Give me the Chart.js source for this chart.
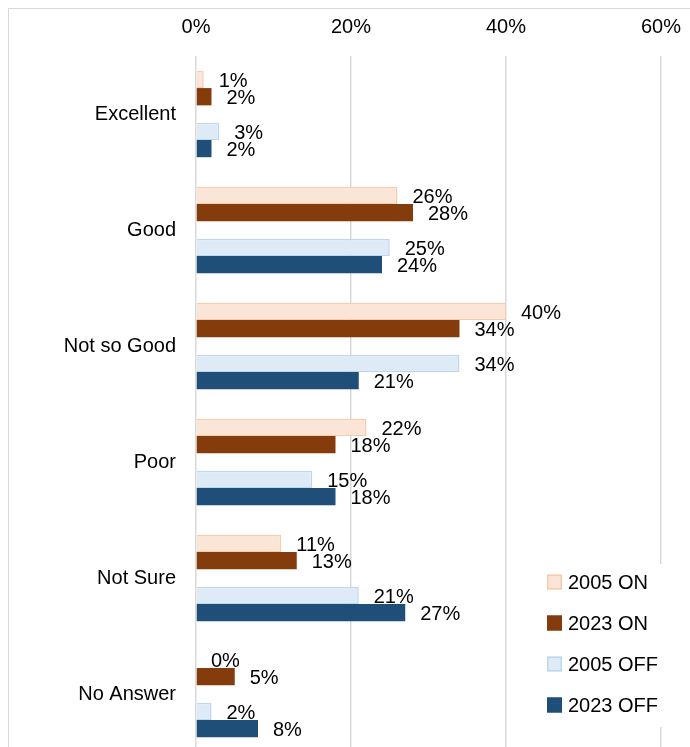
<!DOCTYPE html>
<html>
<head>
<meta charset="utf-8">
<script src="https://cdn.jsdelivr.net/npm/chart.js@4/dist/chart.umd.min.js"></script>
<style>
  html, body { margin: 0; padding: 0; background: #fff; overflow: hidden; }
  #wrap { position: relative; width: 690px; height: 747px; overflow: hidden; }
  #frame { position: absolute; left: 8px; top: 8px; width: 700px; height: 800px;
           border-left: 1.5px solid #d9d9d9; border-top: 1.5px solid #d9d9d9; }
  #rating-chart { position: absolute; left: 0; top: 0; }
</style>
</head>
<body>
<div id="wrap">
  <div id="frame"></div>
  <canvas id="rating-chart" width="690" height="752"></canvas>
</div>
<script>
const categories = ['Excellent', 'Good', 'Not so Good', 'Poor', 'Not Sure', 'No Answer'];
const on2005 = [1, 26, 40, 22, 11, 0];
const on2023 = [2, 28, 34, 18, 13, 5];
const off2005 = [3, 25, 34, 15, 21, 2];
const off2023 = [2, 24, 21, 18, 27, 8];
const xTicks = [0, 20, 40, 60];

const colors = {
  on2005: '#fbe5d6', on2005Line: '#f8cbad',
  on2023: '#843c0c',
  off2005: '#deebf7', off2005Line: '#bdd7ee',
  off2023: '#1f4e79'
};
const FONT = '"Liberation Sans", Arial, sans-serif';

// bar labels, just past the end of each bar
const barLabels = {
  id: 'barLabels',
  afterDatasetsDraw(chart) {
    const ctx = chart.ctx;
    ctx.save();
    ctx.font = '20px ' + FONT;
    ctx.fillStyle = '#000';
    ctx.textAlign = 'left';
    ctx.textBaseline = 'middle';
    chart.data.datasets.forEach((ds, i) => {
      if (!ds.label) return;
      chart.getDatasetMeta(i).data.forEach((bar, j) => {
        const v = ds.data[j];
        if (v == null) return;
        ctx.fillText(v + '%', bar.x + 15, bar.y + 2);
      });
    });
    ctx.restore();
  }
};

// legend box sitting inside the plot, bottom right
const boxLegend = {
  id: 'boxLegend',
  afterDraw(chart) {
    const ctx = chart.ctx;
    const items = chart.data.datasets.filter(d => d.label);
    ctx.save();
    ctx.fillStyle = '#fff';
    ctx.fillRect(540, 564, 150, 163);
    ctx.font = '20px ' + FONT;
    ctx.textBaseline = 'middle';
    items.forEach((ds, k) => {
      const y = 582 + k * 41;
      ctx.fillStyle = ds.backgroundColor;
      ctx.fillRect(547, y - 7.5, 15, 15);
      ctx.strokeStyle = ds.borderColor;
      ctx.lineWidth = 1.5;
      ctx.strokeRect(547.75, y - 6.75, 13.5, 13.5);
      ctx.fillStyle = '#000';
      ctx.fillText(ds.label, 568, y + 1);
    });
    ctx.restore();
  }
};

new Chart(document.getElementById('rating-chart'), {
  type: 'bar',
  data: {
    labels: categories,
    datasets: [
      { label: '2005 ON', data: on2005, backgroundColor: colors.on2005, borderColor: colors.on2005Line, borderWidth: 1.5 },
      { label: '2023 ON', data: on2023, backgroundColor: colors.on2023, borderColor: colors.on2023, borderWidth: 0 },
      { label: '', data: categories.map(() => null) },
      { label: '2005 OFF', data: off2005, backgroundColor: colors.off2005, borderColor: colors.off2005Line, borderWidth: 1.5 },
      { label: '2023 OFF', data: off2023, backgroundColor: colors.off2023, borderColor: colors.off2023, borderWidth: 0 }
    ]
  },
  options: {
    indexAxis: 'y',
    responsive: false,
    animation: false,
    layout: { padding: { left: 0, right: 29, top: 0, bottom: 0 } },
    datasets: { bar: { categoryPercentage: 0.745, barPercentage: 1.0 } },
    plugins: {
      legend: { display: false },
      tooltip: { enabled: false }
    },
    scales: {
      x: {
        position: 'top',
        min: 0,
        max: 60,
        afterBuildTicks: (scale) => { scale.ticks = xTicks.map(v => ({ value: v })); },
        afterFit: (scale) => {
          scale.height = 56;
          scale.paddingLeft = 0;
          scale.paddingRight = 0;
        },
        ticks: {
          padding: 17,
          maxRotation: 0,
          color: '#000',
          font: { size: 20, family: FONT },
          callback: (v) => v + '%'
        },
        grid: { color: '#d9d9d9', lineWidth: 1.5, drawTicks: false },
        border: { display: false }
      },
      y: {
        afterFit: (scale) => {
          scale.width = 196;
          scale.paddingTop = 0;
          scale.paddingBottom = 0;
        },
        ticks: {
          padding: 20,
          color: '#000',
          font: { size: 20, family: FONT }
        },
        grid: { display: false, drawTicks: false },
        border: { display: false }
      }
    }
  },
  plugins: [barLabels, boxLegend]
});
</script>
</body>
</html>
